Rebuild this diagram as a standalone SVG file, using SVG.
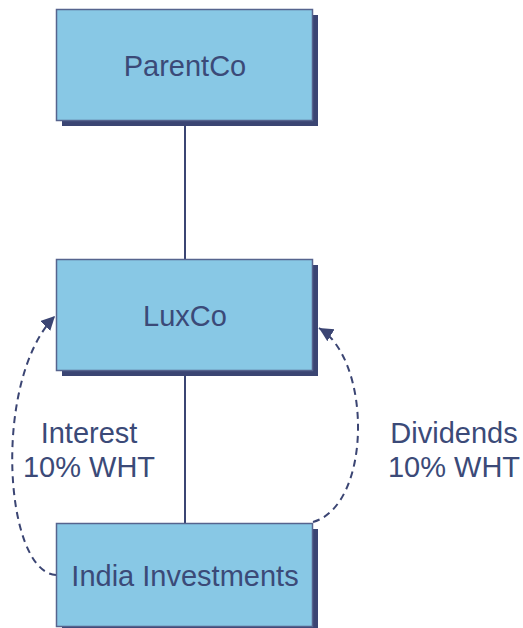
<svg xmlns="http://www.w3.org/2000/svg" width="523" height="628" viewBox="0 0 523 628">
<style>
.shadow{fill:#3b4573}
.box{fill:#88c8e5;stroke:#56648e;stroke-width:1.5}
.t{font-family:"Liberation Sans",Arial,sans-serif;font-size:29px;fill:#3b4a78;text-anchor:middle}
.line{stroke:#3b4573;stroke-width:2;fill:none}
.dash{stroke:#3b4573;stroke-width:2;fill:none;stroke-dasharray:7 5}
</style>
<defs>
<marker id="ah" markerUnits="userSpaceOnUse" markerWidth="16" markerHeight="16" refX="14" refY="7" orient="auto">
<path d="M0,0 L14,7 L0,14 Z" fill="#3b4573"/>
</marker>
</defs>
<g id="connectors">
<line class="line" x1="185" y1="120" x2="185" y2="259"/>
<line class="line" x1="185" y1="370" x2="185" y2="523"/>
<path class="dash" d="M56,575 C4,572 -8,380 55,316" marker-end="url(#ah)"/>
<path class="dash" d="M313,522 C372,505 372,360 319,328" marker-end="url(#ah)"/>
</g>
<g id="parentco">
<rect class="shadow" x="62" y="15" width="256" height="111"/>
<rect class="box" x="56.5" y="9.5" width="256" height="111"/>
<text class="t" x="185" y="76">ParentCo</text>
</g>
<g id="luxco">
<rect class="shadow" x="62" y="265" width="256" height="111"/>
<rect class="box" x="56.5" y="259.5" width="256" height="111"/>
<text class="t" x="185" y="326">LuxCo</text>
</g>
<g id="india">
<rect class="shadow" x="62" y="529" width="256" height="104"/>
<rect class="box" x="56.5" y="523.5" width="256" height="103"/>
<text class="t" x="185" y="586">India Investments</text>
</g>
<g id="labels">
<text class="t" x="89" y="443">Interest</text>
<text class="t" x="89" y="477">10% WHT</text>
<text class="t" x="454" y="443">Dividends</text>
<text class="t" x="454" y="477">10% WHT</text>
</g>
</svg>
